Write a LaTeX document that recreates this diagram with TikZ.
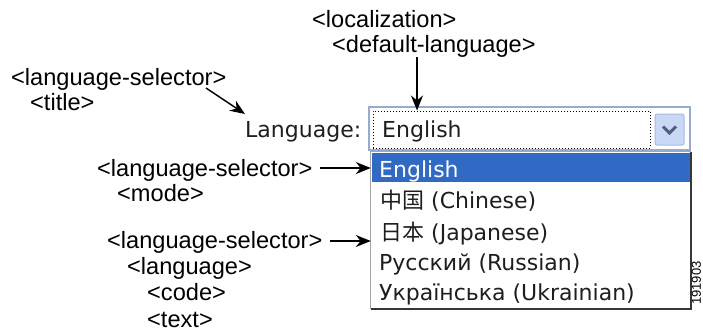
\documentclass[tikz,border=0pt]{standalone}
\usepackage{fontspec}
\setmainfont{Liberation Sans}
\newfontfamily\uifont{DejaVu Sans}
\newfontfamily\cjk{Noto Sans CJK SC}
\usetikzlibrary{arrows.meta}
\definecolor{selblue}{RGB}{49,106,197}
\definecolor{comboborder}{RGB}{150,172,205}
\definecolor{btnfill}{RGB}{200,216,245}
\definecolor{btnborder}{RGB}{165,188,230}
\definecolor{chev}{RGB}{77,97,133}
\definecolor{uitext}{RGB}{30,30,30}
\definecolor{listgray}{RGB}{165,165,165}
\definecolor{listdark}{RGB}{55,55,55}
\begin{document}
\begin{tikzpicture}[x=1pt,y=-1pt,
  lbl/.style={anchor=base west,inner sep=0pt,font=\fontsize{23.6}{25}\selectfont},
  ui/.style={anchor=base west,inner sep=0pt,text=uitext,font=\uifont\fontsize{22}{24}\selectfont},
  arr/.style={line width=1.5pt,-{Stealth[length=15pt,width=12pt]}}]
\useasboundingbox (0,0) rectangle (703,333);
% labels
\node[lbl] (loc) at (312,27) {<localization>};
\node[lbl] (deflang) at (332,52) {<default-language>};
\node[lbl] (ls1) at (11,85) {<language-selector>};
\node[lbl] (title) at (30,110) {<title>};
\node[lbl] (ls2) at (97,176) {<language-selector>};
\node[lbl] (mode) at (117,201) {<mode>};
\node[lbl] (ls3) at (107,248) {<language-selector>};
\node[lbl] (lang) at (127,274) {<language>};
\node[lbl] (code) at (147,300) {<code>};
\node[lbl] (txt) at (147,327) {<text>};
% combo box
\node[ui] (langlbl) at (245,137) {Language:};
\node[draw=comboborder,line width=1.2pt,fill=white,minimum width=321pt,minimum height=43pt,inner sep=0pt] (combo) at (529.5,128.5) {};
\node[draw=black,dotted,line width=1pt,minimum width=277pt,minimum height=37pt,inner sep=0pt] (focus) at (511.5,129.5) {};
\node[draw=btnborder,fill=btnfill,rounded corners=2pt,line width=1pt,minimum width=29pt,minimum height=31pt,inner sep=0pt] (btn) at (669.5,129.5) {};
\draw[chev,line width=3pt] ([shift={(-6.5,-3)}]btn.center) -- ([shift={(0,3.5)}]btn.center) -- ([shift={(6.5,-3)}]btn.center);
\node[ui] (cur) at (382,137) {English};
% list
\node[fill=white,minimum width=320pt,minimum height=157pt,inner sep=0pt] (list) at (531,230.5) {};
\draw[listgray,line width=1.2pt] (list.south west) -- (list.north west) -- (list.north east);
\draw[listdark,line width=2pt] (list.north east) -- (list.south east) -- (list.south west);
\node[fill=selblue,minimum width=318pt,minimum height=29pt,inner sep=0pt] (sel) at (531,167.5) {};
\node[ui,text=white] (i1) at (379,177) {English};
\node[ui] (i2) at (380,208) {{\cjk 中国} (Chinese)};
\node[ui] (i3) at (380,240) {{\cjk 日本} (Japanese)};
\node[ui] (i4) at (379,270) {Русский (Russian)};
\node[ui] (i5) at (379,300) {Українська (Ukrainian)};
\node[rotate=90,inner sep=0pt,font=\fontsize{13}{13}\selectfont] (num) at (696.5,283) {191903};
% arrows
\coordinate (a1s) at (417,57);
\draw[arr] (a1s) -- (a1s |- focus.north);
\coordinate (a2s) at (206,88);
\coordinate (a2e) at (245,114);
\draw[arr] (a2s) -- (a2e);
\coordinate (a3s) at (320,168);
\draw[arr] (a3s) -- (a3s -| list.west);
\coordinate (a4s) at (330,241);
\draw[arr] (a4s) -- (a4s -| list.west);
\end{tikzpicture}
\end{document}
